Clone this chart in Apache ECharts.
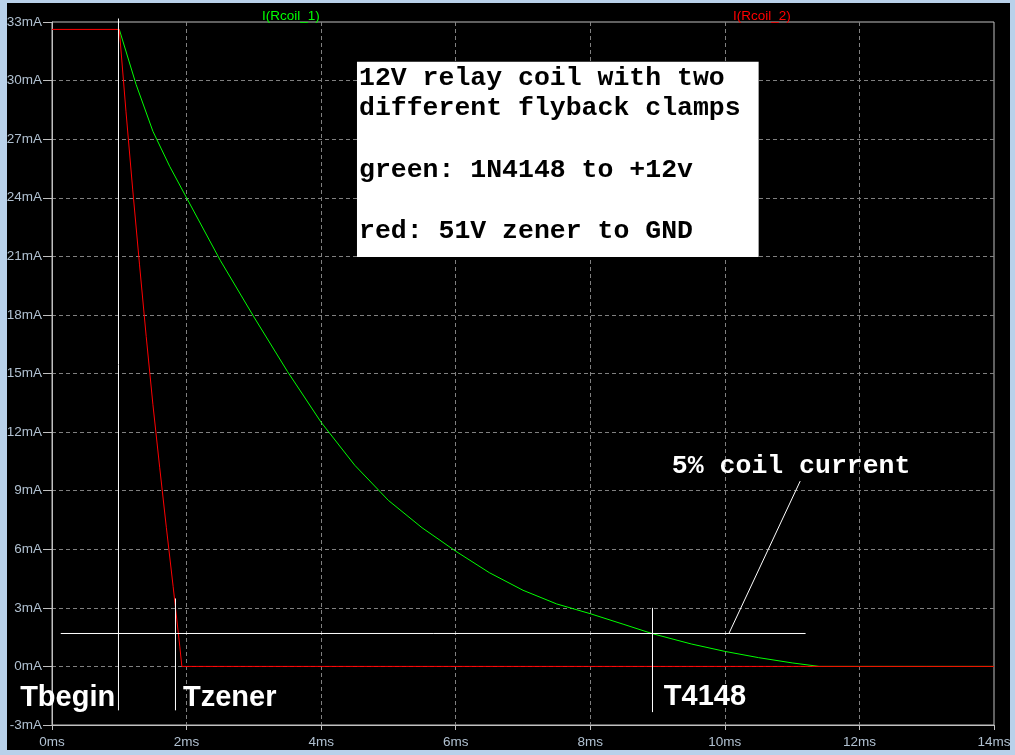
<!DOCTYPE html>
<html>
<head>
<meta charset="utf-8">
<script src="https://cdn.jsdelivr.net/npm/echarts@6/dist/echarts.min.js"></script>
<style>
html,body{margin:0;padding:0;width:1015px;height:755px;overflow:hidden;background:#b9d1ea;}
#frame{position:absolute;left:7px;top:3px;width:1003px;height:747px;background:#000;}
#chart{position:absolute;left:0;top:0;width:1015px;height:755px;}
</style>
</head>
<body>
<div id="frame"></div>
<div id="chart"></div>
<script>
// ---- data (time in ms, current in mA) ----
const seriesNames = ['I(Rcoil_1)', 'I(Rcoil_2)'];
const greenTime = [1.0, 1.25, 1.5, 1.75, 2.0, 2.5, 3.0, 3.5, 4.0, 4.5, 5.0, 5.5, 6.0, 6.5, 7.0, 7.5, 8.0, 8.5, 8.93, 9.5, 10.0, 10.5, 11.0, 11.4, 12.0, 13.0, 14.0];
const greenCurrent = [32.62, 29.8, 27.4, 25.6, 24.0, 20.8, 17.9, 15.1, 12.5, 10.3, 8.5, 7.1, 5.9, 4.8, 3.9, 3.2, 2.7, 2.15, 1.67, 1.15, 0.77, 0.45, 0.18, 0.0, 0.0, 0.0, 0.0];
const redTime = [0, 1.0, 1.1, 1.2, 1.3, 1.4, 1.5, 1.6, 1.7, 1.8, 1.9, 1.93, 4.0, 8.0, 14.0];
const redCurrent = [32.62, 32.62, 28.4, 24.4, 20.6, 16.9, 13.4, 10.2, 7.1, 4.1, 1.0, 0.0, 0.0, 0.0, 0.0];
const xTicks = {min: 0, max: 14, interval: 2, unit: 'ms'};
const yTicks = {min: -3, max: 33, interval: 3, unit: 'mA'};

// annotation marker lines (ms, mA)
const tBeginLine = [[0.988, 33.18], [0.988, -2.25]];
const tZenerLine = [[1.835, 3.48], [1.835, -2.25]];
const t4148Line = [[8.9245, 3.0], [8.9245, -2.34]];
const fivePctLine = [[0.13, 1.686], [11.2, 1.686]];
const pointerLine = [[10.06, 1.686], [11.12, 9.49]];

// annotation texts
const noteBoxText = '12V relay coil with two\ndifferent flyback clamps\n\ngreen: 1N4148 to +12v\n\nred: 51V zener to GND';
const noteBoxAt = [4.54, 30.94];
const fivePctText = '5% coil current';
const fivePctAt = [9.22, 10.2];
const markerTexts = ['Tbegin', 'Tzener', 'T4148'];
const markerTextAt = [[-0.466, -1.64], [1.954, -1.64], [9.10, -1.57]];

function zip(a, b) { return a.map((v, i) => [v, b[i]]); }

const chart = echarts.init(document.getElementById('chart'), null, {renderer: 'canvas'});

const frameColor = '#c0c0c0';
const labelColor = '#b0c0d0';
const whiteLine = (name, data) => ({
  name, type: 'line', data, showSymbol: false, symbol: 'none', clip: false,
  lineStyle: {color: '#ffffff', width: 1, opacity: 1}, z: 4, silent: true, animation: false
});

const monoFont = '"Courier New", "Liberation Mono", monospace';
const boldSans = 'Arial, "Liberation Sans", sans-serif';

const option = {
  backgroundColor: 'transparent',
  animation: false,
  title: [
    {text: seriesNames[0], left: 257, top: 4, textStyle: {color: '#00ff00', fontSize: 13.5, fontWeight: 'normal', fontFamily: 'Arial, "Liberation Sans"'}},
    {text: seriesNames[1], left: 728, top: 4, textStyle: {color: '#ff0000', fontSize: 13.5, fontWeight: 'normal', fontFamily: 'Arial, "Liberation Sans"'}}
  ],
  grid: {left: 52, right: 21, top: 22, bottom: 30, show: true, borderColor: frameColor, borderWidth: 1, backgroundColor: 'transparent'},
  xAxis: {
    type: 'value', min: xTicks.min, max: xTicks.max, interval: xTicks.interval,
    axisLine: {show: true, onZero: false, lineStyle: {color: frameColor, width: 1}},
    axisTick: {show: true, length: 5, lineStyle: {color: frameColor}},
    axisLabel: {color: labelColor, fontSize: 13.5, fontFamily: 'Arial, "Liberation Sans"', margin: 10, formatter: v => v + xTicks.unit},
    splitLine: {show: true, showMinLine: false, showMaxLine: false, lineStyle: {color: '#808080', width: 1, type: [4, 3]}}
  },
  yAxis: {
    type: 'value', min: yTicks.min, max: yTicks.max, interval: yTicks.interval,
    axisLine: {show: true, onZero: false, lineStyle: {color: frameColor, width: 1}},
    axisTick: {show: true, length: 9, lineStyle: {color: frameColor}},
    axisLabel: {color: labelColor, fontSize: 13.5, fontFamily: 'Arial, "Liberation Sans"', margin: 10, formatter: v => v + yTicks.unit},
    splitLine: {show: true, showMinLine: false, showMaxLine: false, lineStyle: {color: '#808080', width: 1, type: [4, 3]}}
  },
  series: [
    {name: seriesNames[0], type: 'line', data: zip(greenTime, greenCurrent), showSymbol: false, symbol: 'none',
     lineStyle: {color: '#00ff00', width: 1}, z: 2, silent: true},
    {name: seriesNames[1], type: 'line', data: zip(redTime, redCurrent), showSymbol: false, symbol: 'none',
     lineStyle: {color: '#ff0000', width: 1}, z: 3, silent: true},
    whiteLine('tbegin', tBeginLine),
    whiteLine('tzener', tZenerLine),
    whiteLine('t4148', t4148Line),
    whiteLine('fivepct', fivePctLine),
    whiteLine('pointer', pointerLine),
    {
      name: 'notes', type: 'scatter', clip: false, silent: true, z: 6,
      symbolSize: 1, itemStyle: {color: 'rgba(0,0,0,0)', opacity: 1},
      emphasis: {disabled: true},
      data: [
        {value: noteBoxAt, label: {show: true, formatter: noteBoxText, position: [0, 0], align: 'left', verticalAlign: 'top',
          backgroundColor: '#ffffff', padding: [1, 18, 10, 2], lineHeight: 30.7, opacity: 1,
          fontFamily: monoFont, fontSize: 26.5, fontWeight: 'bold', color: '#000000'}},
        {value: fivePctAt, label: {show: true, formatter: fivePctText, position: [0, 0], align: 'left', verticalAlign: 'middle', opacity: 1,
          fontFamily: monoFont, fontSize: 26.5, fontWeight: 'bold', color: '#ffffff'}}
      ].concat(markerTexts.map((t, i) => ({
        value: markerTextAt[i], label: {show: true, formatter: t, position: [0, 0], align: 'left', verticalAlign: 'middle', opacity: 1,
          fontFamily: boldSans, fontSize: 29, fontWeight: 'bold', color: '#ffffff',
          textShadowColor: '#1a3a9a', textShadowOffsetX: -1, textShadowOffsetY: 1, textShadowBlur: 0}
      })))
    }
  ]
};
chart.setOption(option);
</script>
</body>
</html>
